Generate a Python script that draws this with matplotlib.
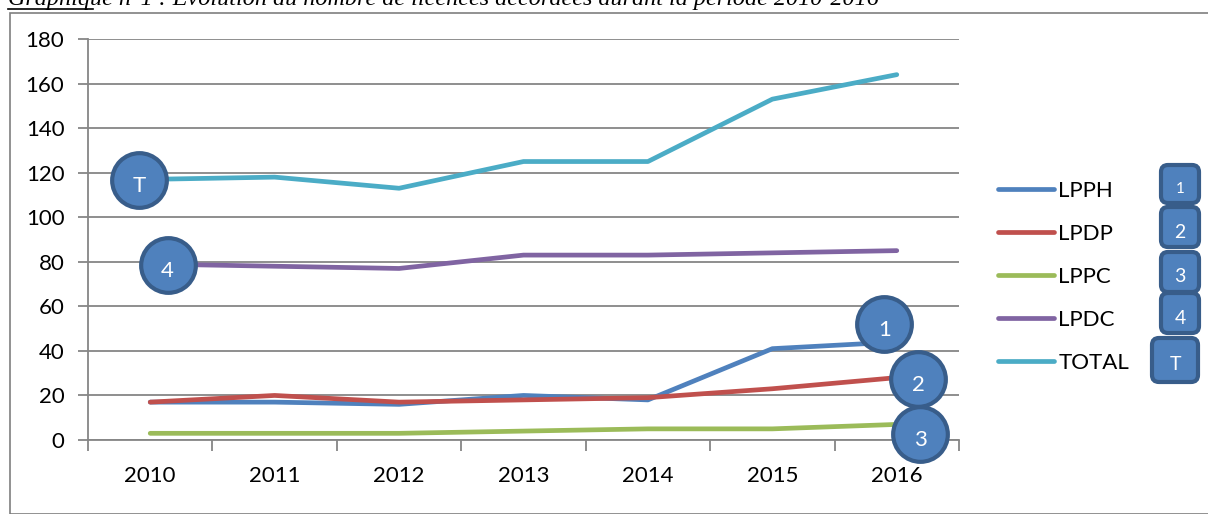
import matplotlib
matplotlib.use("Agg")
import matplotlib.pyplot as plt
from matplotlib.patches import FancyBboxPatch, Rectangle
from matplotlib.lines import Line2D
from matplotlib.transforms import IdentityTransform
import numpy as np

years = ["2010", "2011", "2012", "2013", "2014", "2015", "2016"]
lpph = [17, 17, 16, 20, 18, 41, 44]
lpdp = [17, 20, 17, 18, 19, 23, 28]
lppc = [3, 3, 3, 4, 5, 5, 7]
lpdc = [79, 78, 77, 83, 83, 84, 85]
total = [117, 118, 113, 125, 125, 153, 164]

series = [("LPPH", lpph, "#4F81BD"), ("LPDP", lpdp, "#C0504D"),
          ("LPPC", lppc, "#9BBB59"), ("LPDC", lpdc, "#8064A2"),
          ("TOTAL", total, "#4BACC6")]

plt.rcParams['font.family'] = ['Lato', 'DejaVu Sans']
W, H = 1208, 514
fig = plt.figure(figsize=(W / 100, H / 100), dpi=100)
ax = fig.add_axes([88 / W, 1 - 440 / H, (959 - 88) / W, (440 - 39) / H])

x = np.arange(len(years))
for name, vals, col in series:
    ax.plot(x, vals, color=col, lw=3.4, label=name, solid_capstyle='round')

ax.set_xlim(-0.5, len(years) - 0.5)
ax.set_ylim(0, 180)
ax.set_yticks(range(0, 181, 20))
ax.yaxis.grid(True, color='#868686', lw=1.3)
ax.set_axisbelow(True)
ax.set_xticks(x)
ax.set_xticklabels(years)
ax.set_xticks(np.arange(-0.5, len(years)), minor=True)
ax.tick_params(axis='x', which='major', length=0, pad=19, labelsize=16)
ax.tick_params(axis='x', which='minor', length=8, width=1.3, color='#868686')
ax.tick_params(axis='y', length=7, width=1.3, color='#868686', labelsize=16, pad=10)
for s in ['top', 'right']:
    ax.spines[s].set_visible(False)
for s in ['left', 'bottom']:
    ax.spines[s].set_color('#868686')
    ax.spines[s].set_linewidth(1.3)

# callout circles
callouts = [("T", -0.09, 116.5), ("4", 0.14, 78.5), ("1", 5.9, 52),
            ("2", 6.17, 27.4), ("3", 6.19, 2.7)]
for lab, cx, cy in callouts:
    ax.scatter([cx], [cy], s=1550, c='#4F81BD', edgecolors='#385D8A',
               linewidths=3, zorder=5, clip_on=False)
    ax.text(cx, cy - 2.5, lab, color='white', fontsize=16, ha='center',
            va='center', zorder=6, clip_on=False)

# legend
leg = fig.legend(loc='upper left', bbox_to_anchor=(978 / W, 1 - 161 / H),
                 frameon=False, fontsize=16, handlelength=2.5,
                 handletextpad=0.22, labelspacing=1.03)
for h in leg.legend_handles:
    h.set_linewidth(3.4)

# numbered boxes next to legend
boxes = [("1", 1180, 184, 38, 38, 11), ("2", 1180, 227, 38, 40, 14),
         ("3", 1180, 272, 38, 40, 14), ("4", 1180, 313, 38, 40, 14),
         ("T", 1175, 360, 46, 44, 14)]
for lab, bx, by, bw, bh, fs in boxes:
    p = FancyBboxPatch((bx - bw / 2, H - by - bh / 2), bw, bh,
                       boxstyle="round,pad=0,rounding_size=7",
                       fc='#4F81BD', ec='#385D8A', lw=3,
                       transform=IdentityTransform())
    fig.patches.append(p)
    fig.text(bx / W, 1 - (by + 5) / H, lab, color='white', fontsize=fs,
             ha='center', va='center')

# frame and clipped caption
fig.patches.append(Rectangle((10 / W, 0), 1.2, 1 - 13 / H, fill=False,
                             ec='#7F7F7F', lw=1.2, transform=fig.transFigure))
fig.text(8 / W, 1 - 5 / H,
         "Graphique n°1 : Evolution du nombre de licences accordées durant la période 2010-2016",
         family='Liberation Serif', style='italic', fontsize=17.4, ha='left', va='baseline')
fig.add_artist(Line2D([8 / W, 93 / W], [1 - 9 / H, 1 - 9 / H], color='black', lw=1.2))

fig.savefig("out.png", dpi=100)
